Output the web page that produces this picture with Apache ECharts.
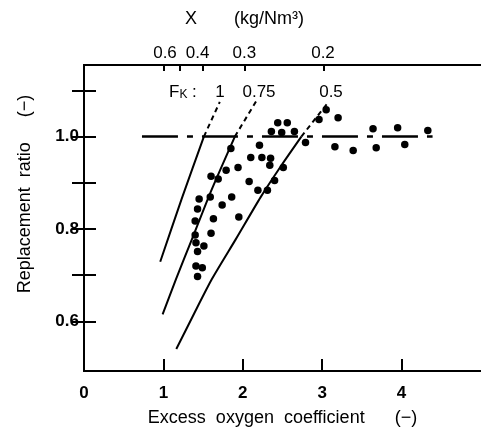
<!DOCTYPE html>
<html><head><meta charset="utf-8">
<script src="https://cdn.jsdelivr.net/npm/echarts@6/dist/echarts.min.js"></script>
<style>html,body{margin:0;padding:0;background:#fff}#c{width:481px;height:432px}</style>
</head><body><div id="c"></div>
<script>
// Measured points: excess oxygen coefficient vs replacement ratio
const dotsX = [2.44,2.56,2.36,2.49,2.65,2.79,2.96,3.05,3.20,3.16,3.39,3.64,3.68,3.95,4.04,4.33,
  2.21,1.85,2.10,2.24,2.35,2.34,2.51,1.94,1.79,1.60,1.69,2.08,2.40,2.19,2.31,
  1.59,1.86,1.45,1.74,1.43,1.95,1.63,1.40,1.60,1.40,1.41,1.51,1.43,1.41,1.49,1.43];
const dotsY = [1.030,1.030,1.011,1.009,1.011,0.987,1.037,1.058,1.041,0.978,0.970,1.017,0.976,1.019,0.983,1.013,
  0.981,0.974,0.955,0.955,0.953,0.938,0.933,0.933,0.927,0.914,0.908,0.903,0.905,0.884,0.884,
  0.869,0.869,0.865,0.852,0.843,0.826,0.822,0.817,0.791,0.787,0.770,0.763,0.751,0.720,0.716,0.697];

// Fk curves (solid) and their dashed extensions
const fk1X = [0.96, 1.23, 1.51];
const fk1Y = [0.729, 0.865, 1.0];
const fk1ExtX = [1.51, 1.71];
const fk1ExtY = [1.0, 1.075];
const fk075X = [0.99, 1.16, 1.36, 1.60, 1.90];
const fk075Y = [0.615, 0.692, 0.778, 0.882, 1.0];
const fk075ExtX = [1.90, 2.18];
const fk075ExtY = [1.0, 1.08];
const fk05X = [1.1625, 1.3875, 1.6125, 1.9125, 2.225, 2.4875, 2.7375];
const fk05Y = [0.540, 0.617, 0.692, 0.778, 0.869, 0.938, 1.0];
const fk05ExtX = [2.7375, 3.07];
const fk05ExtY = [1.0, 1.073];
// Reference level 1.0
const refX = [0.73, 4.39];
const refY = [1.0, 1.0];

// Axis ticks and labels
const bottomTicks = [1, 2, 3, 4];
const bottomLabels = [0, 1, 2, 3, 4];
const leftTicks = [0.6, 0.7, 0.8, 0.9, 1.0, 1.1];
const leftLabels = [0.6, 0.8, 1.0];
const topTickPos = [1.0, 1.2, 1.5, 2.03, 3.02];
const topLabelPos = [1.02, 1.43, 2.02, 3.01];
const topLabelText = ['0.6', '0.4', '0.3', '0.2'];
const fkLabels = ['1', '0.75', '0.5'];

const FONT = 'Liberation Sans, Arial, sans-serif';
const pair = (xs, ys) => xs.map((x, i) => [x, ys[i]]);
const solid = (xs, ys) => ({ type: 'line', data: pair(xs, ys), smooth: 0.2, showSymbol: false, silent: true,
  lineStyle: { color: '#000', width: 2 } });
const dashed = (xs, ys) => ({ type: 'line', data: pair(xs, ys), showSymbol: false, silent: true,
  lineStyle: { color: '#000', width: 2, type: [5, 4] } });

const chart = echarts.init(document.getElementById('c'), null, { renderer: 'canvas' });
const yMin = 0.4925, yMax = 1.155;
chart.setOption({
  animation: false,
  backgroundColor: '#fff',
  grid: { left: 84, top: 65, width: 400, height: 308, containLabel: false },
  xAxis: [
    { type: 'value', min: 0, max: 5, position: 'bottom',
      axisLine: { show: true, lineStyle: { color: '#000', width: 2 } },
      axisTick: { show: true, inside: true, length: 12, customValues: bottomTicks, lineStyle: { color: '#000', width: 2 } },
      axisLabel: { customValues: bottomLabels, margin: 14, color: '#000', fontFamily: FONT, fontSize: 17, fontWeight: 'bold' },
      splitLine: { show: false },
      name: 'Excess  oxygen  coefficient      (\u2212)', nameLocation: 'middle', nameGap: 38,
      nameTextStyle: { color: '#000', fontFamily: FONT, fontSize: 18 } },
    { type: 'value', min: 0, max: 5, position: 'top',
      axisLine: { show: true, lineStyle: { color: '#000', width: 2 } },
      axisTick: { show: true, inside: true, length: 6, customValues: topTickPos, lineStyle: { color: '#000', width: 2 } },
      axisLabel: { customValues: topLabelPos, margin: 3, color: '#000', fontFamily: FONT, fontSize: 17,
        formatter: v => topLabelText[topLabelPos.indexOf(v)] },
      splitLine: { show: false } }
  ],
  yAxis: [
    { type: 'value', min: yMin, max: yMax, position: 'left',
      axisLine: { show: true, lineStyle: { color: '#000', width: 2 } },
      axisTick: { show: true, inside: true, length: 12, customValues: leftTicks, lineStyle: { color: '#000', width: 2 } },
      axisLabel: { customValues: leftLabels, margin: 5, color: '#000', fontFamily: FONT, fontSize: 17, fontWeight: 'bold',
        formatter: v => v.toFixed(1) },
      splitLine: { show: false } },
    { type: 'value', min: yMin, max: yMax, position: 'right',
      axisLine: { show: true, lineStyle: { color: '#000', width: 2 } },
      axisTick: { show: true, inside: true, length: 12, customValues: leftTicks, lineStyle: { color: '#000', width: 2 } },
      axisLabel: { show: false },
      splitLine: { show: false } }
  ],
  series: [
    { type: 'line', data: pair(refX, refY), showSymbol: false, silent: true,
      lineStyle: { color: '#000', width: 2.5, type: [36, 9, 6, 9] } },
    solid(fk1X, fk1Y), dashed(fk1ExtX, fk1ExtY),
    solid(fk075X, fk075Y), dashed(fk075ExtX, fk075ExtY),
    solid(fk05X, fk05Y), dashed(fk05ExtX, fk05ExtY),
    { type: 'scatter', data: pair(dotsX, dotsY), symbol: 'circle', symbolSize: 7.5, silent: true,
      itemStyle: { color: '#000', opacity: 1 } }
  ],
  graphic: [
    { type: 'text', x: 25, y: 194, rotation: Math.PI / 2, style: { text: 'Replacement  ratio     (\u2212)',
        font: '18px ' + FONT, fill: '#000', align: 'center', verticalAlign: 'middle' } },
    { type: 'text', left: 185, top: 10, style: { text: 'X', font: '18px ' + FONT, fill: '#000' } },
    { type: 'text', left: 234, top: 10, style: { text: '(kg/Nm\u00b3)', font: '18px ' + FONT, fill: '#000' } },
    { type: 'text', left: 169, top: 84, style: {
        text: '{f|F}{k|K}{f| :}', rich: { f: { fontSize: 17, fontFamily: FONT, fill: '#000' },
          k: { fontSize: 12, fontFamily: FONT, fill: '#000', verticalAlign: 'bottom' } } } },
    { type: 'text', x: 220, y: 92, style: { text: fkLabels[0], font: '17px ' + FONT, fill: '#000', align: 'center', verticalAlign: 'middle' } },
    { type: 'text', x: 259, y: 92, style: { text: fkLabels[1], font: '17px ' + FONT, fill: '#000', align: 'center', verticalAlign: 'middle' } },
    { type: 'text', x: 331, y: 92, style: { text: fkLabels[2], font: '17px ' + FONT, fill: '#000', align: 'center', verticalAlign: 'middle' } }
  ]
});
</script></body></html>
